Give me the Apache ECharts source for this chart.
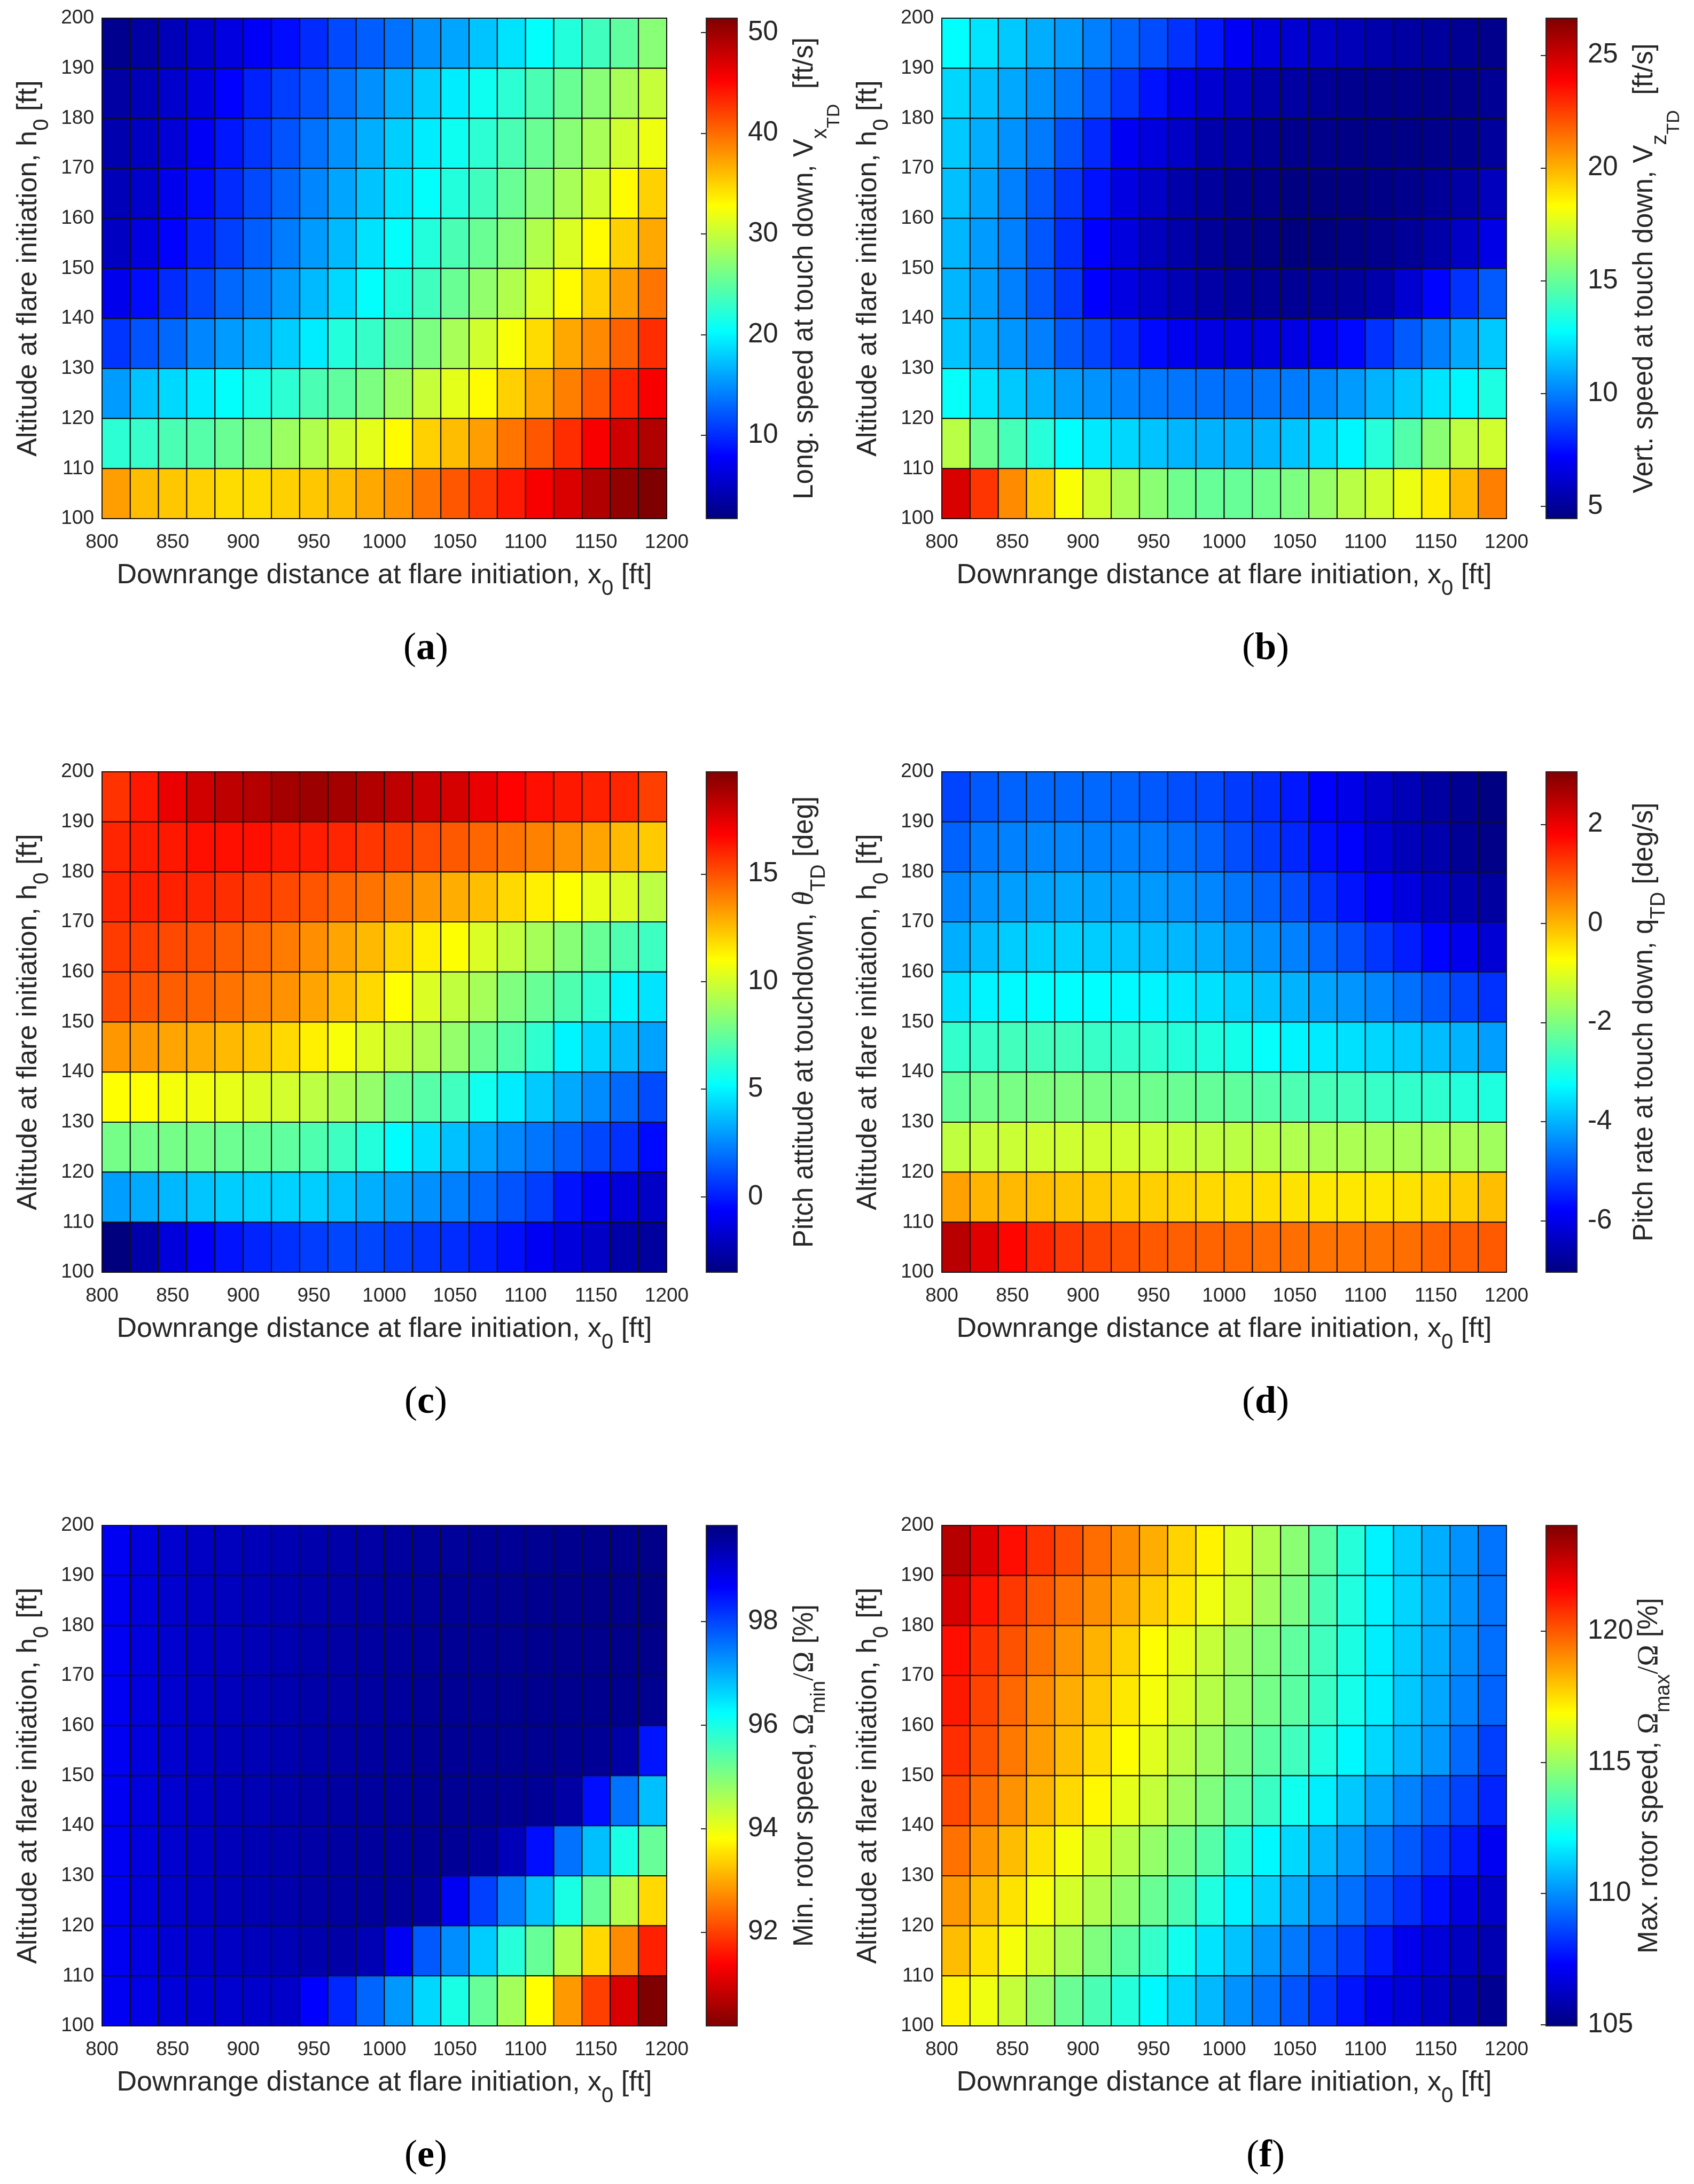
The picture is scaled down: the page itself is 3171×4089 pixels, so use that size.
<!DOCTYPE html>
<html>
<head>
<meta charset="utf-8">
<script src="https://cdn.jsdelivr.net/npm/echarts@6/dist/echarts.min.js"></script>
<style>
  html, body { margin: 0; padding: 0; background: #fff; }
  #main { width: 3171px; height: 4089px; }
</style>
</head>
<body>
<div id="main"></div>
<script>
// cell left edges (x0, ft) and cell bottom edges (h0, ft), rows listed top -> bottom
const xEdges = [800, 820, 840, 860, 880, 900, 920, 940, 960, 980, 1000, 1020, 1040, 1060, 1080, 1100, 1120, 1140, 1160, 1180];
const yEdgesTopDown = [190, 180, 170, 160, 150, 140, 130, 120, 110, 100];
const xTicks = {min: 800, max: 1200, step: 50};
const yTicks = {min: 100, max: 200, step: 10};

// (a) longitudinal speed at touch down [ft/s]
const vxTD = [
  [2.5, 3.5, 4.5, 5.5, 6.5, 7.5, 8.5, 10, 11.5, 12.5, 13.5, 15, 16, 17.5, 19, 20.5, 22, 23.5, 25, 27],
  [3.5, 4.5, 5.5, 6.5, 8, 9.5, 11, 12, 13.5, 15, 16.5, 18, 19.5, 21, 22.5, 24, 25.5, 27, 28.5, 30],
  [4, 5, 6, 7.5, 9, 10.5, 12, 13.5, 15, 16.5, 18, 19.5, 21, 22.5, 24, 25.5, 27, 28.5, 30.5, 32],
  [4.5, 5.5, 7, 8.5, 10, 11.5, 13, 14.5, 16, 17.5, 19, 20.5, 22, 23.5, 25.5, 27, 28.5, 30.5, 33, 35],
  [5, 6.5, 8, 9.5, 11, 12.5, 14, 15.5, 17, 19, 20.5, 22, 24, 25.5, 27, 29, 31, 33, 35, 37],
  [7, 8.5, 10, 11.5, 13, 14, 15.5, 17, 18.5, 20.5, 22, 23.5, 25.5, 27.5, 29, 31, 33, 35, 37.5, 39.5],
  [10.5, 12, 13, 14.5, 15.5, 16.5, 18, 19.5, 22, 23, 25, 26.5, 28.5, 30.5, 32.5, 34.5, 37, 38.5, 40.5, 43],
  [15.5, 17.5, 18.5, 19.5, 20.5, 21.5, 22.5, 24, 25, 26.5, 28, 30, 31.5, 33, 35, 37, 39, 41, 43.5, 45.5],
  [22.5, 23, 24, 24.5, 25.5, 26.5, 28, 29, 30.5, 31.5, 33, 35, 36, 37.5, 39.5, 41, 43, 45.5, 47.5, 49],
  [37.5, 36, 35.5, 35, 34.5, 34.5, 35, 35.5, 36, 37, 38, 39.5, 41, 42.5, 44, 45.5, 47, 49, 50.5, 51.4]
];

// (b) vertical speed at touch down [ft/s]
const vzTD = [
  [12.8, 12.2, 11.6, 11, 10.6, 10, 9.4, 8.9, 8.3, 7.7, 7, 6.5, 6.2, 6, 5.7, 5.4, 5.2, 5.1, 4.9, 4.75],
  [11.9, 11.4, 10.9, 10.4, 9.9, 9.2, 8.4, 7.6, 6.7, 6.2, 5.8, 5.4, 5.2, 5, 4.8, 4.7, 4.7, 4.7, 4.75, 4.9],
  [11.6, 11, 10.4, 9.9, 9, 8.1, 7, 6.5, 6, 5.4, 5.2, 4.9, 4.75, 4.7, 4.6, 4.6, 4.6, 4.7, 4.8, 5.1],
  [11.4, 10.8, 10, 9.2, 8.4, 7.6, 6.6, 6, 5.4, 5.1, 4.8, 4.7, 4.5, 4.5, 4.5, 4.6, 4.75, 5, 5.3, 5.8],
  [11.2, 10.6, 10, 9.1, 8.2, 7.2, 6.5, 5.8, 5.4, 5, 4.75, 4.6, 4.45, 4.45, 4.6, 4.75, 5, 5.4, 6, 6.7],
  [11.2, 10.7, 10, 9.2, 8.4, 7.2, 6.6, 6.1, 5.6, 5.3, 5.1, 5, 4.9, 5, 5.1, 5.4, 6.2, 7.3, 8.3, 9.2],
  [11.5, 11, 10.5, 10, 9.2, 8.7, 8.1, 7.4, 6.9, 6.6, 6.5, 6.5, 6.6, 6.9, 7.4, 8.3, 9.2, 10, 10.9, 11.6],
  [12.9, 12.2, 11.6, 11.1, 10.7, 10.4, 10.1, 9.9, 9.8, 9.7, 9.7, 9.8, 9.9, 10.2, 10.6, 11.1, 11.6, 12.2, 12.6, 13.4],
  [16.8, 15.2, 14.3, 13.6, 12.8, 12.3, 11.9, 11.5, 11.2, 11.1, 11.1, 11.2, 11.5, 12, 12.6, 13.6, 14.6, 15.8, 16.9, 17.3],
  [24.7, 22.7, 20.8, 19.5, 18.2, 17.3, 16.5, 15.8, 15.2, 15, 15, 15.2, 15.5, 16.1, 16.8, 17.3, 17.9, 18.7, 19.8, 21.1]
];

// (c) pitch attitude at touchdown [deg]
const thetaTD = [
  [15.7, 16.3, 17.3, 17.9, 18.3, 18.5, 18.9, 19.1, 18.9, 18.6, 18.3, 18, 17.8, 17.3, 16.8, 16.5, 16.3, 16.1, 16, 15.4],
  [16, 16.2, 16.3, 16.5, 16.5, 16.5, 16.3, 16.2, 16, 15.6, 15.4, 15.1, 14.8, 14.5, 14.2, 13.9, 13.5, 13.1, 12.6, 12.2],
  [16, 16.1, 16.1, 16, 15.8, 15.5, 15.2, 14.9, 14.5, 14.2, 13.8, 13.4, 12.9, 12.5, 11.9, 11.4, 11, 10.5, 10.2, 9.5],
  [15.5, 15.4, 15.2, 15, 14.7, 14.4, 14, 13.6, 13.1, 12.6, 12, 11.4, 11, 10.2, 9.6, 9, 8.3, 7.6, 7, 6.6],
  [15.1, 14.9, 14.7, 14.5, 14.2, 13.8, 13.5, 13.1, 12.5, 11.9, 11, 10.2, 9.6, 9, 8.1, 7.6, 7, 6.3, 5, 4.6],
  [13.4, 13.3, 13.1, 12.9, 12.6, 12.3, 11.9, 11.4, 10.9, 10.2, 9.7, 9.2, 8.6, 7.7, 7.1, 6.3, 5, 4.3, 3.7, 3.1],
  [11, 11, 10.8, 10.7, 10.5, 10.2, 10, 9.5, 9.1, 8.6, 7.7, 7.2, 6.7, 5.6, 4.8, 4, 3.3, 2.6, 1.8, 1.1],
  [7.9, 7.9, 7.9, 7.9, 7.7, 7.6, 7.4, 7, 6.6, 6, 5.2, 4.5, 3.8, 3.1, 2.5, 2.1, 1.6, 1, 0.5, -0.4],
  [3, 3.3, 3.6, 3.9, 4.1, 4.2, 4.2, 4.1, 3.8, 3.4, 3.1, 2.7, 2.3, 1.8, 1.3, 0.8, -0.2, -0.8, -1.4, -1.9],
  [-3.5, -2.5, -1.4, -0.7, -0.2, 0.2, 0.5, 0.8, 1, 1, 0.8, 0.6, 0.4, 0.1, -0.3, -0.9, -1.4, -1.9, -2.5, -2.8]
];

// (d) pitch rate at touch down [deg/s]
const qTD = [
  [-5.1, -4.9, -4.8, -4.75, -4.75, -4.75, -4.8, -4.9, -5, -5.05, -5.2, -5.35, -5.55, -5.8, -6, -6.3, -6.5, -6.7, -6.85, -7],
  [-4.8, -4.55, -4.5, -4.45, -4.45, -4.5, -4.5, -4.55, -4.65, -4.8, -5, -5.2, -5.4, -5.65, -5.8, -6.2, -6.45, -6.6, -6.8, -6.95],
  [-4.45, -4.3, -4.2, -4.15, -4.1, -4.15, -4.2, -4.25, -4.35, -4.45, -4.6, -4.8, -5, -5.3, -5.6, -5.85, -6.1, -6.35, -6.55, -6.7],
  [-4.05, -3.9, -3.75, -3.7, -3.7, -3.75, -3.8, -3.9, -3.95, -4.05, -4.2, -4.35, -4.5, -4.75, -5, -5.25, -5.5, -5.75, -5.95, -6.2],
  [-3.55, -3.35, -3.3, -3.25, -3.25, -3.25, -3.3, -3.35, -3.45, -3.55, -3.7, -3.85, -4, -4.15, -4.3, -4.45, -4.65, -4.9, -5.1, -5.3],
  [-2.75, -2.7, -2.6, -2.6, -2.6, -2.7, -2.75, -2.8, -2.9, -2.95, -3.05, -3.2, -3.35, -3.45, -3.55, -3.65, -3.75, -3.9, -4, -4.2],
  [-2.25, -2.1, -2.05, -2, -2, -2.05, -2.1, -2.15, -2.2, -2.25, -2.3, -2.4, -2.5, -2.55, -2.6, -2.7, -2.75, -2.8, -2.9, -2.95],
  [-1.35, -1.3, -1.25, -1.2, -1.2, -1.2, -1.2, -1.25, -1.3, -1.35, -1.4, -1.45, -1.5, -1.55, -1.55, -1.6, -1.6, -1.6, -1.6, -1.65],
  [0.2, 0, -0.05, -0.1, -0.15, -0.2, -0.25, -0.25, -0.3, -0.35, -0.4, -0.4, -0.45, -0.5, -0.5, -0.5, -0.45, -0.35, -0.25, -0.1],
  [2.5, 2.1, 1.75, 1.45, 1.25, 1.1, 1, 0.9, 0.85, 0.8, 0.75, 0.7, 0.7, 0.65, 0.65, 0.65, 0.7, 0.8, 0.85, 0.9]
];

// (e) minimum rotor speed [%]
const omegaMin = [
  [98.76, 98.95, 99.1, 99.2, 99.25, 99.3, 99.37, 99.42, 99.46, 99.5, 99.55, 99.6, 99.6, 99.65, 99.65, 99.68, 99.7, 99.73, 99.73, 99.76],
  [98.76, 98.95, 99.1, 99.2, 99.25, 99.32, 99.38, 99.43, 99.48, 99.52, 99.56, 99.6, 99.63, 99.65, 99.68, 99.7, 99.72, 99.74, 99.75, 99.77],
  [98.76, 98.95, 99.1, 99.2, 99.26, 99.33, 99.39, 99.44, 99.49, 99.53, 99.57, 99.61, 99.64, 99.66, 99.68, 99.7, 99.72, 99.73, 99.74, 99.75],
  [98.76, 98.95, 99.1, 99.2, 99.27, 99.34, 99.4, 99.45, 99.5, 99.54, 99.58, 99.62, 99.65, 99.67, 99.69, 99.7, 99.71, 99.71, 99.7, 99.68],
  [98.76, 98.95, 99.1, 99.2, 99.28, 99.35, 99.41, 99.46, 99.51, 99.55, 99.59, 99.62, 99.65, 99.67, 99.68, 99.68, 99.66, 99.62, 99.5, 98.45],
  [98.76, 98.95, 99.1, 99.2, 99.28, 99.35, 99.42, 99.47, 99.52, 99.56, 99.6, 99.63, 99.65, 99.66, 99.65, 99.62, 99.5, 98.52, 97.56, 96.83],
  [98.76, 98.95, 99.1, 99.2, 99.28, 99.36, 99.43, 99.48, 99.53, 99.57, 99.6, 99.62, 99.62, 99.58, 99.3, 98.52, 97.56, 96.83, 95.99, 95.26],
  [98.76, 98.95, 99.1, 99.2, 99.28, 99.36, 99.43, 99.49, 99.54, 99.58, 99.6, 99.5, 98.76, 98.04, 97.43, 96.83, 95.99, 95.26, 94.54, 93.45],
  [98.76, 98.92, 99.05, 99.13, 99.2, 99.27, 99.35, 99.42, 99.48, 99.35, 98.76, 97.8, 97.3, 96.7, 95.87, 95.26, 94.54, 93.45, 92.73, 91.7],
  [98.76, 98.88, 99.0, 99.07, 99.1, 99.13, 99.15, 98.64, 98.28, 97.68, 97.2, 96.6, 95.99, 95.26, 94.66, 93.81, 92.85, 92.0, 91.03, 90.19]
];

// (f) maximum rotor speed [%]
const omegaMax = [
  [123.0, 122.2, 121.4, 120.7, 120.2, 119.6, 119.0, 118.4, 117.7, 117.1, 116.2, 115.4, 114.7, 113.8, 112.8, 111.9, 111.2, 110.6, 110.1, 109.5],
  [122.4, 121.3, 120.6, 120.0, 119.5, 119.0, 118.4, 117.8, 117.3, 116.6, 116.0, 115.1, 114.4, 113.5, 112.7, 111.9, 111.3, 110.7, 110.1, 109.5],
  [121.4, 120.7, 120.1, 119.5, 118.9, 118.3, 117.7, 116.9, 116.4, 115.8, 115.1, 114.5, 113.9, 113.3, 112.6, 111.8, 111.2, 110.6, 110.0, 109.4],
  [121.2, 120.4, 119.7, 119.0, 118.4, 117.9, 117.3, 116.7, 116.1, 115.5, 114.9, 114.3, 113.8, 113.2, 112.5, 111.8, 111.1, 110.5, 109.8, 109.2],
  [120.8, 120.1, 119.4, 118.7, 118.1, 117.5, 116.9, 116.3, 115.6, 115.0, 114.4, 113.8, 113.3, 112.7, 112.0, 111.4, 110.8, 110.2, 109.3, 108.5],
  [120.3, 119.6, 118.9, 118.2, 117.6, 117.0, 116.4, 115.8, 115.1, 114.5, 113.9, 113.2, 112.4, 111.8, 111.1, 110.5, 109.8, 109.2, 108.6, 108.0],
  [119.5, 118.8, 118.1, 117.4, 116.7, 116.1, 115.5, 114.9, 114.3, 113.7, 112.8, 112.0, 111.4, 110.8, 110.2, 109.6, 109.0, 108.4, 107.8, 107.1],
  [118.8, 118.1, 117.4, 116.7, 116.1, 115.4, 114.8, 114.1, 113.5, 112.7, 111.9, 111.3, 110.6, 110.0, 109.4, 108.8, 108.2, 107.6, 106.8, 106.4],
  [118.1, 117.4, 116.7, 116.0, 115.3, 114.5, 113.8, 113.1, 112.4, 111.6, 111.0, 110.2, 109.6, 109.0, 108.4, 107.8, 107.0, 106.6, 106.2, 105.9],
  [117.1, 116.6, 115.8, 114.9, 114.1, 113.5, 112.8, 112.0, 111.4, 110.8, 110.1, 109.5, 108.9, 108.3, 107.7, 107.0, 106.6, 106.2, 105.8, 105.3]
];

// colour axis limits and colorbar ticks per panel
const cbarRanges = [[1.73, 51.42], [4.45, 26.64], [-3.51, 19.75], [-7.04, 3.06], [90.19, 99.85], [104.95, 124.03]];
const cbarTicks = [[10, 20, 30, 40, 50], [5, 10, 15, 20, 25], [0, 5, 10, 15], [-6, -4, -2, 0, 2], [92, 94, 96, 98], [105, 110, 115, 120]];
const cbarLabels = [
  '{m|Long. speed at touch down, V}{s|x}{ss|TD}{m|  [ft/s]}',
  '{m|Vert. speed at touch down, V}{s|z}{ss|TD}{m|  [ft/s]}',
  '{m|Pitch attitude at touchdown, }{it|θ}{sd|TD}{m| [deg]}',
  '{m|Pitch rate at touch down, q}{sd|TD}{m| [deg/s]}',
  '{m|Min. rotor speed, }{om|Ω}{sd|min}{om|/Ω}{m| [%]}',
  '{m|Max. rotor speed, }{om|Ω}{sd|max}{om|/Ω}{m| [%]}'
];
const panelLetters = ['a', 'b', 'c', 'd', 'e', 'f'];
const panelValues = [vxTD, vzTD, thetaTD, qTD, omegaMin, omegaMax];
const reversedMap = [false, false, false, false, true, false];

const jet = ['#00007f', '#0000ff', '#007fff', '#00ffff', '#7fff7f', '#ffff00', '#ff7f00', '#ff0000', '#7f0000'];

const FONT = 'Liberation Sans';
const TEXT = '#262626';
const PLOT_W = 1057, PLOT_H = 937, CB_OFF = 1131, CB_W = 58;
const colLeft = [191, 1763];
const rowTop = [34, 1445, 2856];

const cellW = xEdges[1] - xEdges[0];
const cellH = yEdgesTopDown[0] - yEdgesTopDown[1];

const chart = echarts.init(document.getElementById('main'));

function cellData(values) {
  let out = [];
  values.forEach((row, r) => {
    row.forEach((v, c) => out.push([xEdges[c], yEdgesTopDown[r], v]));
  });
  return out;
}

function renderCell(params, api) {
  let x = api.value(0), y = api.value(1);
  let p0 = api.coord([x, y + cellH]);
  let p1 = api.coord([x + cellW, y]);
  return {
    type: 'rect',
    shape: {x: p0[0], y: p0[1], width: p1[0] - p0[0], height: p1[1] - p0[1]},
    style: {fill: api.visual('color'), stroke: '#111', lineWidth: 2}
  };
}

function makeBar(palette) {
  let n = palette.length - 1;
  let stops = palette.map((c, i) => ({offset: 1 - i / n, color: c}));
  return function (params, api) {
    let lo = api.coord([0, api.value(0)]);
    let hi = api.coord([1, api.value(1)]);
    return {
      type: 'rect',
      shape: {x: lo[0], y: hi[1], width: hi[0] - lo[0], height: lo[1] - hi[1]},
      style: {fill: new echarts.graphic.LinearGradient(0, 0, 0, 1, stops), stroke: TEXT, lineWidth: 2}
    };
  };
}

const titleRich = {
  m: {fontSize: 52, lineHeight: 90, fontFamily: FONT, color: TEXT},
  s: {fontSize: 40, lineHeight: 40, verticalAlign: 'bottom', fontFamily: FONT, color: TEXT}
};
// subscripts: bottom-aligned in a tall line, lifted back up by their bottom padding
const cbarRich = {
  m: {fontSize: 51, lineHeight: 170, fontFamily: FONT, color: TEXT},
  s: {fontSize: 40, verticalAlign: 'bottom', padding: [0, 0, 36, 0], fontFamily: FONT, color: TEXT},
  ss: {fontSize: 34, verticalAlign: 'bottom', padding: [0, 0, 13, 0], fontFamily: FONT, color: TEXT},
  sd: {fontSize: 38, verticalAlign: 'bottom', padding: [0, 0, 39, 0], fontFamily: FONT, color: TEXT},
  it: {fontSize: 54, lineHeight: 170, fontStyle: 'italic', fontFamily: 'Liberation Serif', color: TEXT},
  om: {fontSize: 54, lineHeight: 170, fontFamily: 'Liberation Serif', color: TEXT}
};

const plainNumber = v => String(v);

let grids = [], xAxes = [], yAxes = [], series = [], visualMaps = [], graphics = [];

panelValues.forEach((values, p) => {
  let left = colLeft[p % 2];
  let top = rowTop[Math.floor(p / 2)];
  let palette = reversedMap[p] ? jet.slice().reverse() : jet;
  let g = grids.length;

  grids.push({left: left, top: top, width: PLOT_W, height: PLOT_H});
  grids.push({left: left + CB_OFF, top: top, width: CB_W, height: PLOT_H});

  xAxes.push({
    gridIndex: g, type: 'value', min: xTicks.min, max: xTicks.max, interval: xTicks.step,
    axisLine: {show: false}, axisTick: {show: false}, splitLine: {show: false},
    axisLabel: {fontSize: 37, fontFamily: FONT, color: TEXT, margin: 26, formatter: plainNumber},
    name: '{m|Downrange distance at flare initiation, x}{s|0}{m| [ft]}',
    nameLocation: 'middle', nameGap: 62,
    nameTextStyle: {rich: titleRich}
  });
  yAxes.push({
    gridIndex: g, type: 'value', min: yTicks.min, max: yTicks.max, interval: yTicks.step,
    axisLine: {show: false}, axisTick: {show: false}, splitLine: {show: false},
    axisLabel: {fontSize: 37, fontFamily: FONT, color: TEXT, margin: 15, formatter: plainNumber},
    name: '{m|Altitude at flare initiation, h}{s|0}{m| [ft]}',
    nameLocation: 'middle', nameRotate: 90, nameGap: 92,
    nameTextStyle: {rich: titleRich}
  });

  xAxes.push({gridIndex: g + 1, type: 'value', min: 0, max: 1, show: false});
  yAxes.push({
    gridIndex: g + 1, type: 'value', position: 'right', z: 10,
    min: cbarRanges[p][0], max: cbarRanges[p][1],
    axisLine: {show: false}, splitLine: {show: false},
    axisTick: {show: true, inside: true, length: 10, customValues: cbarTicks[p], lineStyle: {color: TEXT, width: 2}},
    axisLabel: {customValues: cbarTicks[p], fontSize: 51, fontFamily: FONT, color: TEXT, margin: 20, formatter: plainNumber},
    name: cbarLabels[p],
    nameLocation: 'middle', nameRotate: 90, nameGap: 42,
    nameTextStyle: {rich: cbarRich}
  });

  series.push({
    type: 'custom', coordinateSystem: 'cartesian2d', xAxisIndex: g, yAxisIndex: g,
    renderItem: renderCell, encode: {x: 0, y: 1}, data: cellData(values), silent: true
  });
  visualMaps.push({
    type: 'continuous', show: false, seriesIndex: series.length - 1, dimension: 2,
    min: cbarRanges[p][0], max: cbarRanges[p][1], inRange: {color: palette}
  });
  series.push({
    type: 'custom', coordinateSystem: 'cartesian2d', xAxisIndex: g + 1, yAxisIndex: g + 1,
    renderItem: makeBar(palette), encode: {y: [0, 1]}, data: [[cbarRanges[p][0], cbarRanges[p][1]]], silent: true
  });

  graphics.push({
    type: 'text', x: left + 606, y: top + 1181,
    style: {
      text: '{p|(}{b|' + panelLetters[p] + '}{p|)}',
      align: 'center', verticalAlign: 'middle',
      rich: {
        p: {fontSize: 72, fontFamily: 'Liberation Serif', fill: '#000'},
        b: {fontSize: 72, fontFamily: 'Liberation Serif', fontWeight: 'bold', fill: '#000'}
      }
    }
  });
});

chart.setOption({
  backgroundColor: '#fff',
  animation: false,
  grid: grids,
  xAxis: xAxes,
  yAxis: yAxes,
  visualMap: visualMaps,
  series: series,
  graphic: graphics
});
</script>
</body>
</html>
